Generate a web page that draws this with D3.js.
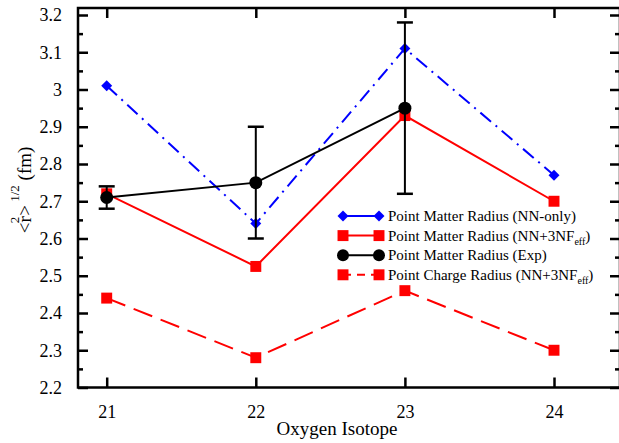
<!DOCTYPE html>
<html>
<head>
<meta charset="utf-8">
<script src="https://cdn.jsdelivr.net/npm/d3@7"></script>
</head>
<body style="margin:0; background:#fff">
<svg id="chart" width="619" height="443"></svg>
<script>
// isotopes on x
const isotopes = [21, 22, 23, 24];

// radii (fm)
const nnOnly = [3.01, 2.64, 3.11, 2.77];
const nn3nf = [2.72, 2.525, 2.93, 2.70];
const chargeNN3nf = [2.44, 2.28, 2.46, 2.30];
const expIsotopes = [21, 22, 23];
const expValues = [2.71, 2.75, 2.95];
const expErrors = [0.03, 0.15, 0.23];

const yTicks = [2.2, 2.3, 2.4, 2.5, 2.6, 2.7, 2.8, 2.9, 3, 3.1, 3.2];
const yMinor = [2.25, 2.35, 2.45, 2.55, 2.65, 2.75, 2.85, 2.95, 3.05, 3.15];

const FONT = '"Liberation Serif"';
const svg = d3.select("#chart").style("display", "block").style("font-family", FONT);
const frame = { left: 78, top: 8, right: 620, bottom: 387.5 };

const x = d3.scaleLinear().domain([21, 24]).range([106.7, 554]);
const y = d3.scaleLinear().domain([2.2, 3.2]).range([387.5, 15]);

// frame
svg.append("rect")
  .attr("x", frame.left).attr("y", frame.top)
  .attr("width", frame.right - frame.left).attr("height", frame.bottom - frame.top)
  .attr("fill", "none").attr("stroke", "#000").attr("stroke-width", 2.5);

// axes with inward ticks
const gx = svg.append("g").attr("transform", `translate(0,${frame.bottom})`)
  .call(d3.axisBottom(x).tickValues(isotopes).tickFormat(d3.format("d")).tickSizeInner(-10).tickSizeOuter(0).tickPadding(18));
const gxTop = svg.append("g").attr("transform", `translate(0,${frame.top})`)
  .call(d3.axisTop(x).tickValues(isotopes).tickFormat("").tickSizeInner(-10).tickSizeOuter(0));
const gy = svg.append("g").attr("transform", `translate(${frame.left},0)`)
  .call(d3.axisLeft(y).tickValues(yTicks).tickFormat(d3.format("")).tickSizeInner(-10).tickSizeOuter(0).tickPadding(16));
const gyMinor = svg.append("g").attr("transform", `translate(${frame.left},0)`)
  .call(d3.axisLeft(y).tickValues(yMinor).tickFormat("").tickSizeInner(-5).tickSizeOuter(0));
const gyR = svg.append("g").attr("transform", `translate(${frame.right},0)`)
  .call(d3.axisRight(y).tickValues(yTicks).tickFormat("").tickSizeInner(-10).tickSizeOuter(0));
const gyRMinor = svg.append("g").attr("transform", `translate(${frame.right},0)`)
  .call(d3.axisRight(y).tickValues(yMinor).tickFormat("").tickSizeInner(-5).tickSizeOuter(0));

[gx, gxTop, gy, gyMinor, gyR, gyRMinor].forEach(g => {
  g.attr("font-family", null);
  g.select(".domain").remove();
  g.selectAll(".tick line").attr("stroke", "#000").attr("stroke-width", 2.5);
  g.selectAll("text").style("font-family", FONT).attr("font-size", 18).attr("fill", "#000");
});

// axis titles
svg.append("text")
  .attr("x", (frame.left + frame.right) / 2 - 12).attr("y", 435)
  .attr("text-anchor", "middle").attr("font-size", 19).style("font-family", FONT)
  .text("Oxygen Isotope");

const yl = svg.append("text")
  .attr("transform", "translate(31,190) rotate(-90)")
  .attr("text-anchor", "middle").attr("font-size", 19).style("font-family", FONT);
yl.append("tspan").text("<r");
yl.append("tspan").attr("font-size", 13).attr("dy", -12).attr("dx", -7).text("2");
yl.append("tspan").attr("dy", 12).attr("dx", 1).text(">");
yl.append("tspan").attr("font-size", 13).attr("dy", -12).text(" 1/2");
yl.append("tspan").attr("dy", 12).text(" (fm)");

// series
const line = d3.line().x(d => x(d[0])).y(d => y(d[1]));
const pairs = vals => isotopes.map((iso, i) => [iso, vals[i]]);

const square = d3.symbol().type(d3.symbolSquare).size(120);
const diamond = d3.symbol().type(d3.symbolSquare).size(60);

function drawSeries(vals, color, dash, sym) {
  svg.append("path").datum(pairs(vals))
    .attr("fill", "none").attr("stroke", color).attr("stroke-width", 2)
    .attr("stroke-dasharray", dash).attr("d", line);
  svg.append("g").selectAll("path").data(pairs(vals)).join("path")
    .attr("transform", d => `translate(${x(d[0])},${y(d[1])})` + (sym === "diamond" ? " rotate(45)" : ""))
    .attr("d", sym === "diamond" ? diamond : square).attr("fill", color);
}

drawSeries(chargeNN3nf, "#ff0000", "20,9", "square");
drawSeries(nn3nf, "#ff0000", null, "square");
drawSeries(nnOnly, "#0000ff", "14,6,2,6", "diamond");

// experiment with error bars
const expData = expIsotopes.map((iso, i) => ({ iso, v: expValues[i], e: expErrors[i] }));
const eb = svg.append("g");
eb.selectAll("line.v").data(expData).join("line")
  .attr("x1", d => x(d.iso)).attr("x2", d => x(d.iso))
  .attr("y1", d => y(d.v - d.e)).attr("y2", d => y(d.v + d.e))
  .attr("stroke", "#000").attr("stroke-width", 2);
[-1, 1].forEach(s => {
  eb.selectAll(null).data(expData).join("line")
    .attr("x1", d => x(d.iso) - 8).attr("x2", d => x(d.iso) + 8)
    .attr("y1", d => y(d.v + s * d.e)).attr("y2", d => y(d.v + s * d.e))
    .attr("stroke", "#000").attr("stroke-width", 2.5);
});
svg.append("path").datum(expData.map(d => [d.iso, d.v]))
  .attr("fill", "none").attr("stroke", "#000").attr("stroke-width", 2).attr("d", line);
svg.append("g").selectAll("circle").data(expData).join("circle")
  .attr("cx", d => x(d.iso)).attr("cy", d => y(d.v)).attr("r", 6.5).attr("fill", "#000");

// legend
const legendItems = [
  { label: "Point Matter Radius (NN-only)", sub: null, color: "#0000ff", dash: null, sym: "diamond" },
  { label: "Point Matter Radius (NN+3NF", sub: "eff", color: "#ff0000", dash: null, sym: "square" },
  { label: "Point Matter Radius (Exp)", sub: null, color: "#000", dash: null, sym: "circle" },
  { label: "Point Charge Radius (NN+3NF", sub: "eff", color: "#ff0000", dash: "8,6", sym: "square" }
];
const lg = svg.append("g").attr("transform", "translate(343,216)");
legendItems.forEach((it, i) => {
  const row = lg.append("g").attr("transform", `translate(0,${i * 19.6})`);
  row.append("line").attr("x1", 0).attr("x2", 36).attr("y1", 0).attr("y2", 0)
    .attr("stroke", it.color).attr("stroke-width", 2)
    .attr("stroke-dasharray", it.dash);
  [0, 36].forEach(px => {
    if (it.sym === "circle") {
      row.append("circle").attr("cx", px).attr("cy", 0).attr("r", 6).attr("fill", it.color);
    } else {
      row.append("path")
        .attr("transform", `translate(${px},0)` + (it.sym === "diamond" ? " rotate(45)" : ""))
        .attr("d", it.sym === "diamond" ? diamond : square).attr("fill", it.color);
    }
  });
  const t = row.append("text").attr("x", 45).attr("y", 5).attr("font-size", 15)
    .style("font-family", FONT).text(it.label);
  if (it.sub) {
    t.append("tspan").attr("font-size", 10).attr("dy", 4).text(it.sub);
    t.append("tspan").attr("dy", -4).text(")");
  }
});
</script>
</body>
</html>
